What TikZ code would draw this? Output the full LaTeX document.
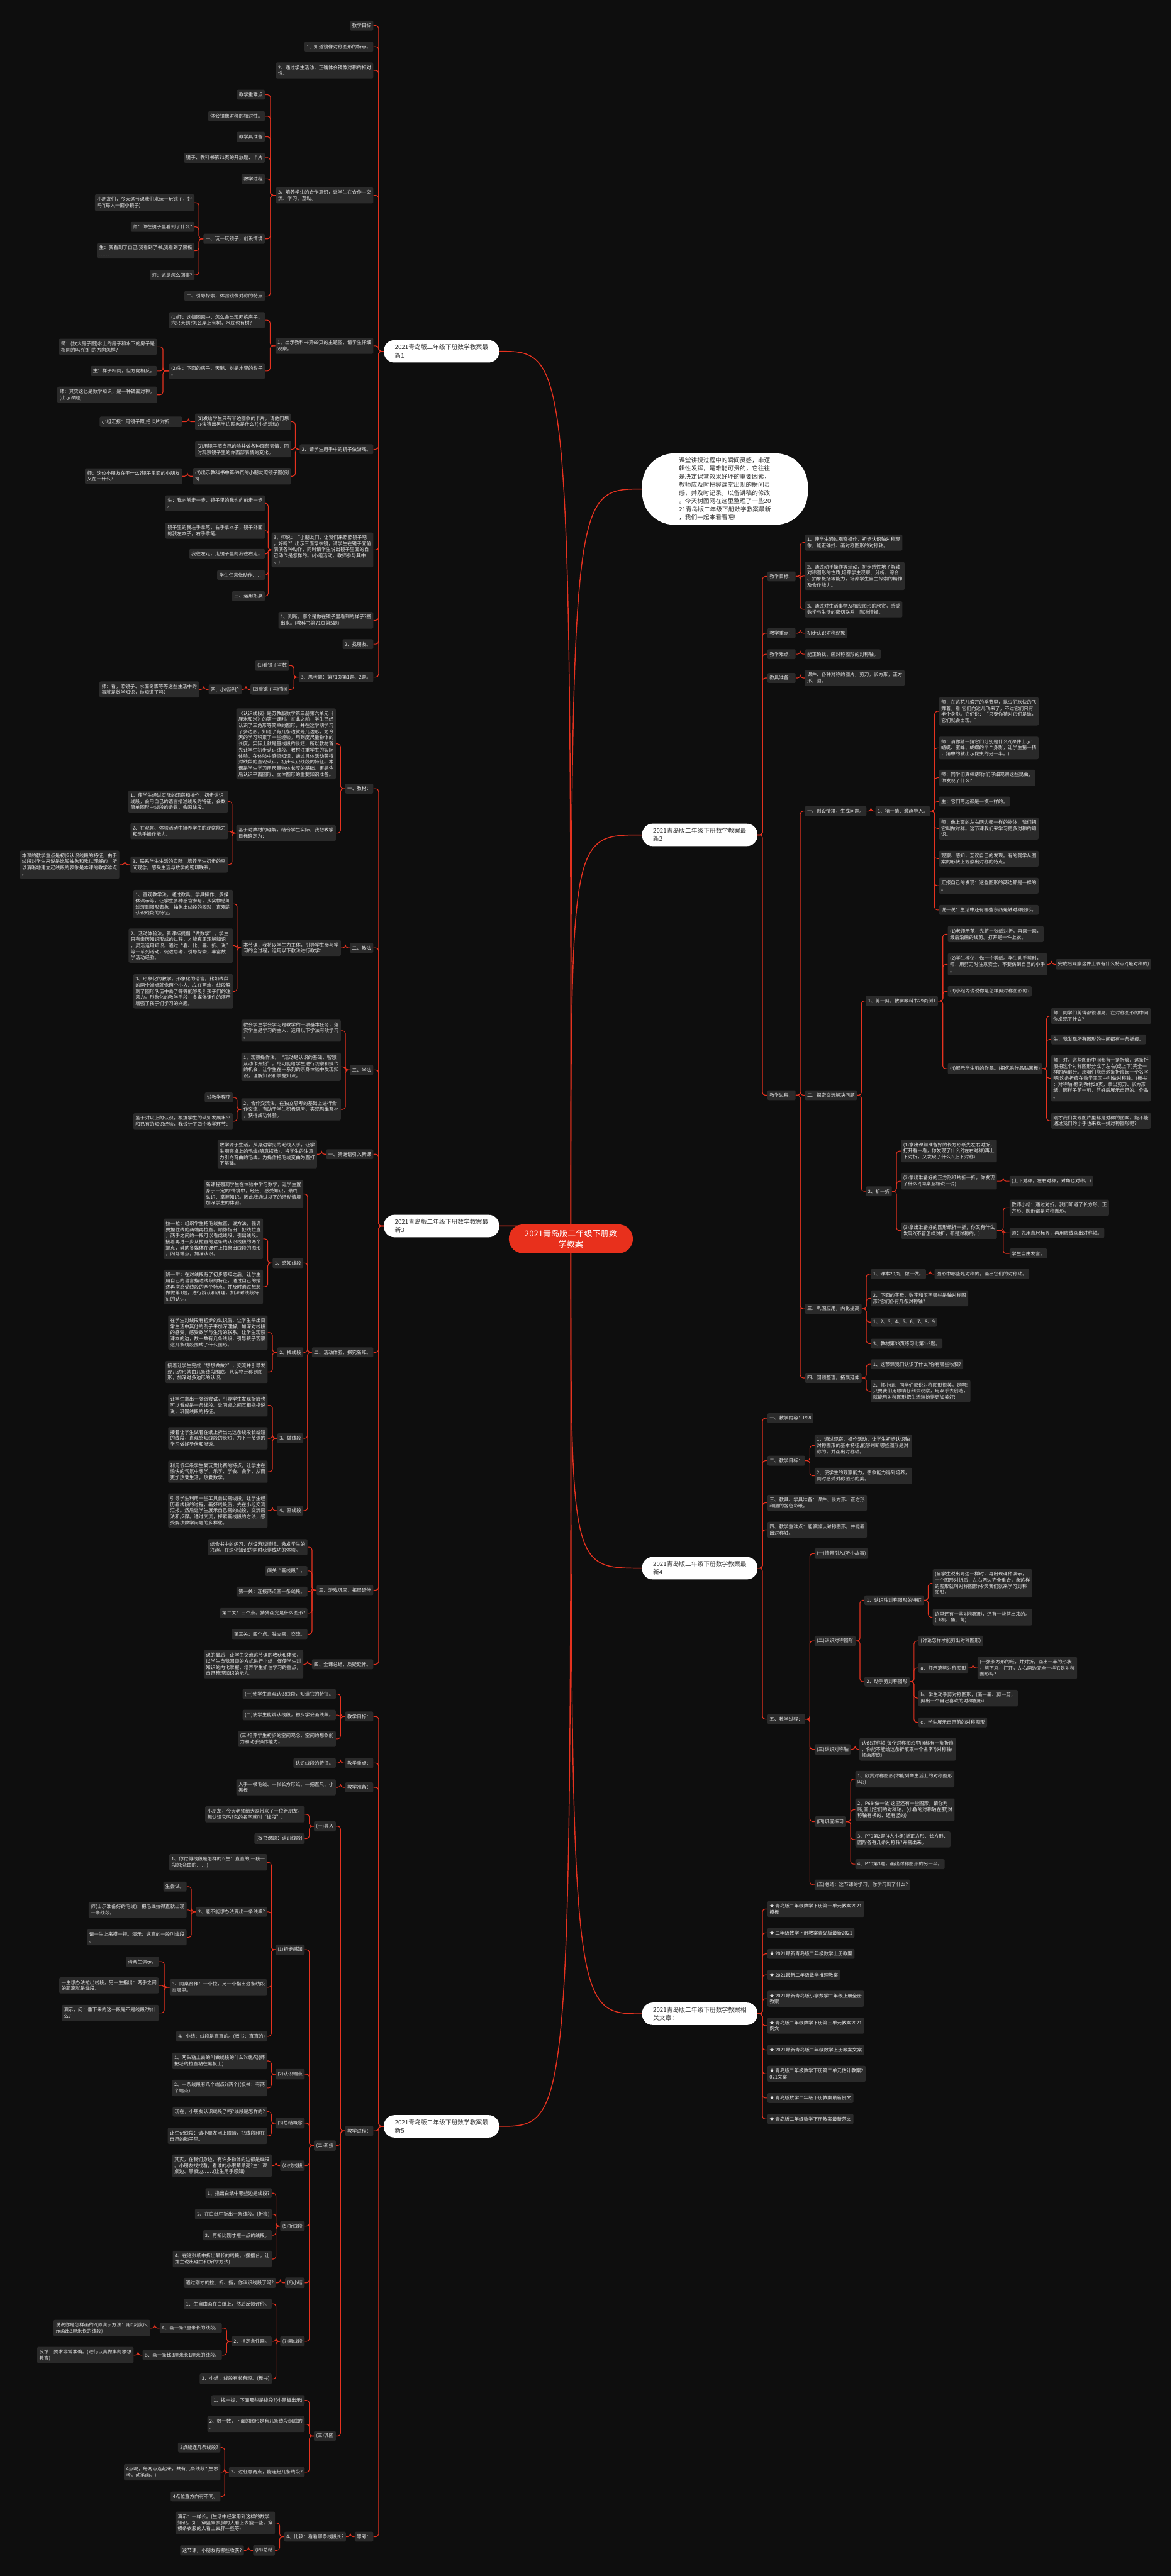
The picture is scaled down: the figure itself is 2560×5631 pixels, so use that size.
\documentclass[tikz,border=0pt]{standalone}
\usepackage{fontspec}
\newfontfamily\cjk{Noto Sans CJK SC}
\usetikzlibrary{calc}
\pgfdeclarelayer{bg}
\pgfdeclarelayer{edges}
\pgfsetlayers{bg,edges,main}
\definecolor{bgc}{HTML}{0E0E0E}
\definecolor{boxc}{HTML}{2A2A2A}
\definecolor{txtc}{HTML}{E6E6E6}
\definecolor{linec}{HTML}{E5321F}
\definecolor{rootc}{HTML}{E8301C}
\definecolor{lvtxt}{HTML}{333333}
\tikzset{
  bx/.style={fill=boxc,text=txtc,rounded corners=3pt,inner xsep=4.7pt,inner ysep=6pt,align=left,font=\cjk\fontsize{10.4pt}{13.3pt}\selectfont},
  le/.style={bx,anchor=east},
  ri/.style={bx,anchor=west},
  lvone/.style={fill=white,text=lvtxt,rounded corners=23pt,inner xsep=24pt,inner ysep=6pt,minimum height=49pt,align=left,font=\cjk\fontsize{13.4pt}{18.2pt}\selectfont},
  descn/.style={fill=white,text=lvtxt,rounded corners=70pt,inner sep=0pt,minimum width=362pt,minimum height=156pt,align=left,font=\cjk\fontsize{13.3pt}{17.9pt}\selectfont},
  rootn/.style={fill=rootc,text=white,rounded corners=31pt,minimum width=271pt,minimum height=63pt,align=center,font=\cjk\fontsize{18pt}{23pt}\selectfont},
  conn/.style={draw=linec,line width=1.5pt,rounded corners=6pt},
  mconn/.style={draw=linec,line width=2pt},
}
\newcommand\lkon[2]{\draw[conn] (#1.west) -- ($(#1.west)!0.5!(#1.west -| #2.east)$) |- (#2.east);}
\newcommand\rkon[2]{\draw[conn] (#1.east) -- ($(#1.east)!0.5!(#1.east -| #2.west)$) |- (#2.west);}
\begin{document}
\begin{tikzpicture}[x=1pt,y=-1pt]
\useasboundingbox (0,0) rectangle (2560,5631);
\begin{pgfonlayer}{bg}
\fill[bgc] (0,0) rectangle (2560,5631);
\end{pgfonlayer}

% root and first level
\node[rootn] (C) at (1247.5,2708) {2021青岛版二年级下册数\\学教案};
\node[lvone,anchor=east] (L1) at (1091,768) {2021青岛版二年级下册数学教案最\\新1};
\node[lvone,anchor=east] (L3) at (1091,2680) {2021青岛版二年级下册数学教案最\\新3};
\node[lvone,anchor=east] (L5) at (1091,4648) {2021青岛版二年级下册数学教案最\\新5};
\node[descn,anchor=west] (D) at (1403,1069) {课堂讲授过程中的瞬间灵感，非逻\\辑性发挥，是难能可贵的，它往往\\是决定课堂效果好坏的重要因素，\\教师应及时把握课堂出现的瞬间灵\\感，并及时记录，以备讲稿的修改\\。今天树图网在这里整理了一些20\\21青岛版二年级下册数学教案最新\\，我们一起来看看吧!};
\node[lvone,anchor=west] (R2) at (1403,1825) {2021青岛版二年级下册数学教案最\\新2};
\node[lvone,anchor=west] (R4) at (1403,3428) {2021青岛版二年级下册数学教案最\\新4};
\node[lvone,anchor=west] (R6) at (1403,4402) {2021青岛版二年级下册数学教案相\\关文章：};

% ---------------- L1 ----------------
\node[le] (L1a) at (816,56) {教学目标};
\node[le] (L1b) at (816,102) {1、知道镜像对称图形的特点。};
\node[le] (L1c) at (816,154) {2、通过学生活动，正确体会镜像对称的相对\\性。};
\node[le] (L1d) at (816,427) {3、培养学生的合作意识，让学生在合作中交\\流、学习、互动。};
\node[le] (L1d1) at (579,207) {教学重难点};
\node[le] (L1d2) at (579,254) {体会镜像对称的相对性。};
\node[le] (L1d3) at (579,299) {教学具准备};
\node[le] (L1d4) at (579,345) {镜子、教科书第71页的开放题、卡片};
\node[le] (L1d5) at (579,391) {教学过程};
\node[le] (L1d6) at (579,522) {一、玩一玩镜子，创设情境};
\node[le] (L1d6a) at (425,443) {小朋友们，今天这节课我们来玩一玩镜子，好\\吗?(每人一面小镜子)};
\node[le] (L1d6b) at (425,496) {师：你在镜子里看到了什么?};
\node[le] (L1d6c) at (425,548) {生：我看到了自己;我看到了书;我看到了黑板\\……};
\node[le] (L1d6d) at (425,601) {师：这是怎么回事?};
\node[le] (L1d7) at (579,647) {二、引导探索，体验镜像对称的特点};
\node[le] (L1e) at (816,756) {1、出示教科书第69页的主题图，请学生仔细\\观察。};
\node[le] (L1e1) at (579,700) {(1)师：这幅图画中，怎么会出现两栋房子、\\六只天鹅?怎么岸上有树，水底也有树?};
\node[le] (L1e2) at (579,811) {(2)生：下面的房子、天鹅、树是水里的影子\\。};
\node[le] (L1e2a) at (343,758) {师：(放大房子图)水上的房子和水下的房子是\\相同的吗?它们的方向怎样?};
\node[le] (L1e2b) at (343,811) {生：样子相同，但方向相反。};
\node[le] (L1e2c) at (343,863) {师：其实这也是数学知识，是一种镜面对称。\\(出示课题)};
\node[le] (L1f) at (816,982) {2、请学生用手中的镜子做游戏。};
\node[le] (L1f1) at (636,922) {(1)发给学生只有半边图象的卡片，请他们想\\办法猜出另半边图象是什么?(小组活动)};
\node[le] (L1f1a) at (398,922) {小组汇报：用镜子照;把卡片对折……};
\node[le] (L1f2) at (636,982) {(2)用镜子照自己的脸并做各种面部表情，同\\时观察镜子里的你面部表情的变化。};
\node[le] (L1f3) at (636,1041) {(3)出示教科书中第69页的小朋友照镜子图(例\\3)};
\node[le] (L1f3a) at (398,1041) {师：这位小朋友在干什么?镜子里面的小朋友\\又在干什么?};
\node[le] (L1g) at (816,1202) {3、师说：“小朋友们，让我们来照照镜子吧\\，好吗?”出示三面穿衣镜，请学生在镜子面前\\表演各种动作，同时请学生说出镜子里面的自\\己动作是怎样的。(小组活动，教师参与其中\\。)};
\node[le] (L1g1) at (579,1100) {生：我向前走一步，镜子里的我也向前走一步\\。};
\node[le] (L1g2) at (579,1160) {镜子里的我左手拿笔，右手拿本子，镜子外面\\的我左本子，右手拿笔。};
\node[le] (L1g3) at (579,1211) {我往左走，走镜子里的我往右走。};
\node[le] (L1g4) at (579,1257) {学生任意做动作……};
\node[le] (L1g5) at (579,1303) {三、运用拓展};
\node[le] (L1h) at (816,1356) {1、判断。哪个是你在镜子里看到的样子?圈\\出来。(教科书第71页第5题)};
\node[le] (L1i) at (816,1408) {2、找朋友。};
\node[le] (L1j) at (816,1480) {3、思考题：第71页第1题、2题。};
\node[le] (L1j1) at (632,1455) {(1)看镜子写数};
\node[le] (L1j2) at (632,1507) {(2)看镜子写时间};
\node[le] (L1j2a) at (528,1507) {四、小结评价};
\node[le] (L1j2b) at (435,1507) {师：看，照镜子、水面倒影等等这些生活中的\\事就是数学知识，你知道了吗?};

% ---------------- L3 ----------------
\node[le] (L3a) at (816,1724) {一、教材：};
\node[le] (L3a1) at (734,1626) {《认识线段》是苏教版数学第三册第六单元《\\厘米和米》的第一课时。在此之前，学生已经\\认识了三角形等简单的图形，并在这学期学习\\了多边形，知道了有几条边就是几边形，为今\\天的学习积累了一些经验。用刻度尺量物体的\\长度，实际上就是量线段的长短，所以教材首\\先让学生初步认识线段。教材注重学生的实际\\体验，在体验中感悟知识，通过具体活动获得\\对线段的直观认识，初步认识线段的特征。本\\课是学生学习用尺量物体长度的基础，更是今\\后认识平面图形、立体图形的重要知识准备。};
\node[le] (L3a2) at (734,1821) {基于对教材的理解，结合学生实际，我把教学\\目标确定为：};
\node[le] (L3a2a) at (498,1752) {1、使学生经过实际的观察和操作，初步认识\\线段，会用自己的语言描述线段的特征，会数\\简单图形中线段的条数，会画线段。};
\node[le] (L3a2b) at (498,1817) {2、在观察、体验活动中培养学生的观察能力\\和动手操作能力。};
\node[le] (L3a2c) at (498,1890) {3、联系学生生活的实际，培养学生初步的空\\间观念，感受生活与数学的密切联系。};
\node[le] (L3a2c1) at (261,1890) {本课的教学重点是初步认识线段的特征，由于\\线段对学生来说是比较抽象和难以理解的。所\\以清晰地建立起线段的表象是本课的教学难点\\。};
\node[le] (L3b) at (816,2072) {二、教法};
\node[le] (L3b1) at (745,2072) {本节课，我将以学生为主体，引导学生参与学\\习的全过程，运用以下教法进行教学：};
\node[le] (L3b1a) at (509,1976) {1、直观教学法。通过教具、学具操作、多媒\\体演示等，让学生多种感官参与，从实物感知\\过渡到图形表象，抽象出线段的图形，直观的\\认识线段的特征。};
\node[le] (L3b1b) at (509,2067) {2、活动体验法。新课标提倡“做数学”。学生\\只有亲历知识形成的过程，才能真正理解知识\\，灵活运用知识。通过“看、比、画、折、说”\\等一系列活动，促进思考，引导探索，丰富数\\学活动经验。};
\node[le] (L3b1c) at (509,2167) {3、形象化的教学。形象化的语言，比如线段\\的两个端点就像两个小人儿立在两端，线段躲\\到了图形队伍中去了等等能够吸引孩子们的注\\意力。形象化的教学手段，多媒体课件的演示\\增强了孩子们学习的兴趣。};
\node[le] (L3c) at (816,2339) {三、学法};
\node[le] (L3c1) at (745,2253) {教会学生学会学习是教学的一项基本任务，落\\实学生是学习的主人，运用以下学法有效学习\\。};
\node[le] (L3c2) at (745,2332) {1、观察操作法。“活动是认识的基础，智慧\\从动作开始”。尽可能给学生进行观察和操作\\的机会，让学生在一系列的亲身体验中发现知\\识，理解知识和掌握知识。};
\node[le] (L3c3) at (745,2425) {2、合作交流法。在独立思考的基础上进行合\\作交流，有助于学生积极思考、实现思维互补\\，获得成功体验。};
\node[le] (L3c3a) at (509,2399) {说教学程序};
\node[le] (L3c3b) at (509,2451) {鉴于对以上的认识，根据学生的认知发展水平\\和已有的知识经验，我设计了四个教学环节：};
\node[le] (L3d) at (816,2523) {一、猜谜语引入新课};
\node[le] (L3d1) at (693,2523) {数学源于生活，从身边常见的毛线入手，让学\\生观察桌上的毛线(随意摆放)，将学生的注意\\力引向弯曲的毛线。为操作把毛线变曲为直打\\下基础。};
\node[le] (L3e) at (816,2956) {二、活动体验，探究新知。};
\node[le] (L3e1) at (663,2610) {新课程强调学生在体验中学习数学，让学生置\\身于一定的'情境中，经历、感受知识，最终\\认识、掌握知识。因此我通过以下的活动情境\\加深学生的体验。};
\node[le] (L3e2) at (663,2761) {1、感知线段};
\node[le] (L3e2a) at (575,2708) {拉一拉：组织学生把毛线拉直，说方法，强调\\要捏住线的两端再拉直。顺势指出：把线拉直\\，两手之间的一段可以看成线段，引出线段。\\接着再进一步从拉直的这条线认识线段的两个\\端点，辅助多媒体在课件上抽象出线段的图形\\，闪烁端点，加深认识。};
\node[le] (L3e2b) at (575,2813) {辨一辨：在对线段有了初步感知之后，让学生\\用自己的语言描述线段的特征，通过自己的描\\述再次感受线段的两个特点，并及时通过想想\\做做第1题，进行辨认和说理，加深对线段特\\征的认识。};
\node[le] (L3e3) at (663,2956) {2、找线段};
\node[le] (L3e3a) at (585,2913) {在学生对线段有初步的认识后，让学生举出日\\常生活中其他的例子来加深理解，加深对线段\\的感受，感受数学与生活的联系。让学生观察\\课本的边，数一数有几条线段，引导孩子观察\\这几条线段围成了什么图形。};
\node[le] (L3e3b) at (585,2999) {接着让学生完成“想想做做2”，交流并引导发\\现几边形就由几条线段围成。从实物迁移到图\\形，加深对多边形的认识。};
\node[le] (L3e4) at (663,3144) {3、做线段};
\node[le] (L3e4a) at (585,3072) {让学生拿出一张纸尝试，引导学生发现折痕也\\可以看成是一条线段。让同桌之间互相指指说\\说，巩固线段的特征。};
\node[le] (L3e4b) at (585,3144) {接着让学生试着在纸上折出比这条线段长或短\\的线段，直观感知线段的长短，为下一节课的\\学习做好孕伏和渗透。};
\node[le] (L3e4c) at (585,3217) {利用低年级学生爱玩爱比赛的特点，让学生在\\愉快的气氛中想学、乐学、学会、会学，从而\\更加热爱生活，热爱数学。};
\node[le] (L3e5) at (663,3302) {4、画线段};
\node[le] (L3e5a) at (585,3302) {引导学生利用一些工具尝试画线段，让学生经\\历画线段的过程，画好线段后，先在小组交流\\汇报。然后让学生展示自己画的线段，交流画\\法和步骤。通过交流，探索画线段的方法，感\\受解决数学问题的多样化。};
\node[le] (L3f) at (816,3476) {三、游戏巩固，拓展延伸};
\node[le] (L3f1) at (672,3382) {结合书中的练习，创设游戏情境，激发学生的\\兴趣，在深化知识的同时获得成功的体验。};
\node[le] (L3f2) at (672,3434) {闯关“画线段”。};
\node[le] (L3f3) at (672,3479) {第一关：连接两点画一条线段。};
\node[le] (L3f4) at (672,3526) {第二关：三个点。猜猜画完是什么图形?};
\node[le] (L3f5) at (672,3572) {第三关：四个点。独立画，交流。};
\node[le] (L3g) at (816,3638) {四、全课总结，质疑延伸。};
\node[le] (L3g1) at (663,3638) {课的最后，让学生交流这节课的收获和体会，\\以学生自我回顾的方式进行小结，促使学生对\\知识的内化掌握，培养学生抓住学习的重点，\\自己整理知识的能力。};

% ---------------- L5 ----------------
\node[le] (L5a) at (816,3752) {教学目标：};
\node[le] (L5a1) at (734,3703) {(一)使学生直观认识线段，知道它的特征。};
\node[le] (L5a2) at (734,3749) {(二)使学生能辨认线段，初步学会画线段。};
\node[le] (L5a3) at (734,3801) {(三)培养学生初步的空间观念，空间的想象能\\力和动手操作能力。};
\node[le] (L5b) at (816,3854) {教学重点：};
\node[le] (L5b1) at (734,3854) {认识线段的特征。};
\node[le] (L5c) at (816,3907) {教学准备：};
\node[le] (L5c1) at (734,3907) {人手一根毛线、一张长方形纸、一把直尺、小\\黑板};
\node[le] (L5d) at (816,4658) {教学过程：};
\node[le] (L5d1) at (734,3992) {(一)导入};
\node[le] (L5d1a) at (666,3966) {小朋友，今天老师给大家带来了一位新朋友，\\想认识它吗?它的名字就叫“线段”。};
\node[le] (L5d1b) at (666,4019) {(板书课题：认识线段)};
\node[le] (L5d2) at (734,4690) {(二)新授};
\node[le] (L5d2a) at (666,4262) {(1)初步感知};
\node[le] (L5d2a1) at (584,4071) {1、你觉得线段是怎样的?(生：直直的;一段一\\段的;弯曲的……)};
\node[le] (L5d2a2) at (584,4179) {2、能不能想办法变出一条线段?};
\node[le] (L5d2a2a) at (408,4124) {生尝试。};
\node[le] (L5d2a2b) at (408,4175) {师(出示准备好的毛线)：把毛线拉得直就出现\\一条线段。};
\node[le] (L5d2a2c) at (408,4235) {请一生上来摸一摸。演示：这直的一段叫线段\\。};
\node[le] (L5d2a3) at (584,4344) {3、同桌合作：一个拉，另一个指出这条线段\\在哪里。};
\node[le] (L5d2a3a) at (347,4288) {请两生演示。};
\node[le] (L5d2a3b) at (347,4340) {一生想办法拉出线段，另一生指出：两手之间\\的距离就是线段。};
\node[le] (L5d2a3c) at (347,4400) {演示，问：垂下来的这一段是不是线段?为什\\么?};
\node[le] (L5d2a4) at (584,4451) {4、小结：线段是直直的。(板书：直直的)};
\node[le] (L5d2b) at (666,4534) {(2)认识端点};
\node[le] (L5d2b1) at (584,4505) {1、两头粘上去的叫做线段的什么?(端点)(师\\把毛线拉直粘在黑板上)};
\node[le] (L5d2b2) at (584,4564) {2、一条线段有几个端点?(两个)(板书：有两\\个端点)};
\node[le] (L5d2c) at (666,4641) {(3)总结概念};
\node[le] (L5d2c1) at (584,4616) {现在，小朋友认识线段了吗?线段是怎样的?};
\node[le] (L5d2c2) at (584,4669) {让生记线段：请小朋友闭上眼睛，把线段印在\\自己的脑子里。};
\node[le] (L5d2d) at (666,4734) {(4)找线段};
\node[le] (L5d2d1) at (594,4734) {其实，在我们身边，有许多物体的边都是线段\\。小朋友找找看，看谁的小眼睛最亮?生：课\\桌边、黑板边……(让生用手感知)};
\node[le] (L5d2e) at (666,4866) {(5)折线段};
\node[le] (L5d2e1) at (594,4794) {1、指出白纸中哪些边是线段?};
\node[le] (L5d2e2) at (594,4840) {2、在白纸中折出一条线段。(折痕)};
\node[le] (L5d2e3) at (594,4886) {3、再折比刚才短一点的线段。};
\node[le] (L5d2e4) at (594,4938) {4、在这张纸中折出最长的线段。(摆擂台，让\\擂主说出理由和折的'方法)};
\node[le] (L5d2f) at (666,4990) {(6)小结};
\node[le] (L5d2f1) at (603,4990) {通过刚才的拉、折、指，你认识线段了吗?};
\node[le] (L5d2g) at (666,5118) {(7)画线段};
\node[le] (L5d2g1) at (594,5036) {1、生自由画在白纸上，然后反馈评价。};
\node[le] (L5d2g2) at (594,5118) {2、指定条件画。};
\node[le] (L5d2g2a) at (485,5089) {A、画一条3厘米长的线段。};
\node[le] (L5d2g2a1) at (328,5089) {说说你是怎样画的?(师演示方法：用0刻度尺\\示画出3厘米长的线段)};
\node[le] (L5d2g2b) at (485,5148) {B、画一条比3厘米长1厘米的线段。};
\node[le] (L5d2g2b1) at (292,5148) {反馈：要求非常准确。(进行认真做事的思想\\教育)};
\node[le] (L5d2g3) at (594,5200) {3、小结：线段有长有短。(板书)};
\node[le] (L5d3) at (734,5325) {(三)巩固};
\node[le] (L5d3a) at (666,5247) {1、找一找，下面那些是线段?(小黑板出示)};
\node[le] (L5d3b) at (666,5299) {2、数一数，下面的图形是有几条线段组成的\\。};
\node[le] (L5d3c) at (666,5404) {3、过任意两点，能连起几条线段?};
\node[le] (L5d3c1) at (482,5350) {3点能连几条线段?};
\node[le] (L5d3c2) at (482,5404) {4点呢，每两点连起来，共有几条线段?(生思\\考，动笔画。)};
\node[le] (L5d3c3) at (482,5457) {4点位置方向有不同。};
\node[le] (L5e) at (816,5545) {思考：};
\node[le] (L5e1) at (756,5545) {4、比较：看看哪条线段长?};
\node[le] (L5e1a) at (601,5515) {演示：一样长。(生活中经常用到这样的数学\\知识。如：穿竖条衣服的人看上去瘦一些，穿\\横条衣服的人看上去胖一些等)};
\node[le] (L5e1b) at (601,5575) {(四)总结};
\node[le] (L5e1b1) at (533,5575) {这节课，小朋友有哪些收获?};

% ---------------- R2 ----------------
\node[ri] (R2a) at (1677,1260) {教学目标：};
\node[ri] (R2a1) at (1759,1186) {1、使学生通过观察操作，初步认识轴对称现\\象，能正确找、画对称图形的对称轴。};
\node[ri] (R2a2) at (1759,1259) {2、通过动手操作等活动，初步感性地了解轴\\对称图形的性质;培养学生观察、分析、综合\\、抽象概括等能力，培养学生自主探索的精神\\及合作能力。};
\node[ri] (R2a3) at (1759,1332) {3、通过对生活事物及相应图形的欣赏，感受\\数学与生活的密切联系，陶冶情操。};
\node[ri] (R2b) at (1677,1384) {教学重点：};
\node[ri] (R2b1) at (1759,1384) {初步认识对称现象};
\node[ri] (R2c) at (1677,1430) {教学难点：};
\node[ri] (R2c1) at (1759,1430) {能正确找、画对称图形的对称轴。};
\node[ri] (R2d) at (1677,1482) {教具准备：};
\node[ri] (R2d1) at (1759,1482) {课件、各种对称的图片，剪刀，长方形，正方\\形，圆。};
\node[ri] (R2e) at (1677,2394) {教学过程：};
\node[ri] (R2e1) at (1759,1773) {一、创设情境，生成问题。};
\node[ri] (R2e1a) at (1913,1773) {1、猜一猜、激趣导入。};
\node[ri] (R2e1a1) at (2052,1555) {师：在这花儿盛开的季节里，昆虫们欢快的飞\\舞着，看!它们向这儿飞来了，不过它们只有\\半个身影。它们说：“只要你猜对它们是谁，\\它们就会出现。”};
\node[ri] (R2e1a2) at (2052,1635) {师：请你猜一猜它们分别是什么?(课件出示：\\蜻蜓、蜜蜂、蝴蝶的半个身影，让学生猜一猜\\，猜中的就出示昆虫的另一半。)};
\node[ri] (R2e1a3) at (2052,1700) {师：同学们真棒!那你们仔细观察这些昆虫，\\你发现了什么?};
\node[ri] (R2e1a4) at (2052,1752) {生：它们两边都是一模一样的。};
\node[ri] (R2e1a5) at (2052,1811) {师：像上面的左右两边都一样的物体，我们把\\它叫做对称。这节课我们来学习更多对称的知\\识。};
\node[ri] (R2e1a6) at (2052,1877) {观察、感知，互议自己的发现。有的同学从图\\案的形状上观察出对称的特点。};
\node[ri] (R2e1a7) at (2052,1936) {汇报自己的发现：这些图形的两边都是一样的\\。};
\node[ri] (R2e1a8) at (2052,1989) {说一说：生活中还有哪些东西是轴对称图形。};
\node[ri] (R2e2) at (1759,2394) {二、探索交流解决问题};
\node[ri] (R2e2a) at (1892,2188) {1、剪一剪，教学教科书29页例1};
\node[ri] (R2e2a1) at (2071,2042) {(1)老师示范，先将一张纸对折，再画一画，\\最后沿画的线剪。打开是一件上衣。};
\node[ri] (R2e2a2) at (2071,2108) {(2)学生模仿，做一个剪纸。学生动手剪时，\\师：用剪刀时注意安全，不要伤到自己的小手\\。};
\node[ri] (R2e2a2x) at (2307,2108) {完成后观察这件上衣有什么特点?(是对称的)};
\node[ri] (R2e2a3) at (2071,2167) {(3)小组内说说你是怎样剪对称图形的?};
\node[ri] (R2e2a4) at (2071,2336) {(4)展示学生剪的作品。(把优秀作品贴黑板)};
\node[ri] (R2e2a4a) at (2297,2221) {师：同学们剪得都很漂亮，在对称图形的中间\\你发现了什么?};
\node[ri] (R2e2a4b) at (2297,2272) {生：我发现所有图形的中间都有一条折痕。};
\node[ri] (R2e2a4c) at (2297,2357) {师：对，这些图形中间都有一条折痕，这条折\\痕把这个对称图形分成了左右(或上下)完全一\\样的两部分。那咱们能给这条折痕起一个名字\\吧!这条折痕在数学王国中叫做对称轴。(板书\\：对称轴)翻到教材29页，拿出剪刀、长方形\\纸，照样子剪一剪，剪好后展示自己的。作品\\。};
\node[ri] (R2e2a4d) at (2297,2450) {刚才我们发现图片里都是对称的图案，能不能\\通过我们的小手也来找一找对称图形呢?};
\node[ri] (R2e2b) at (1892,2604) {2、折一折};
\node[ri] (R2e2b1) at (1969,2516) {(1)拿出课前准备好的长方形纸先左右对折，\\打开看一看，你发现了什么?(左右对称)再上\\下对折，又发现了什么?(上下对称)};
\node[ri] (R2e2b2) at (1969,2582) {(2)拿出准备好的正方形纸片折一折，你发现\\了什么?(同桌互相说一说)};
\node[ri] (R2e2b2x) at (2206,2582) {(上下对称，左右对称，对角也对称。)};
\node[ri] (R2e2b3) at (1969,2690) {(3)拿出准备好的圆形纸折一折，你又有什么\\发现?(不管怎样对折，都是对称的。)};
\node[ri] (R2e2b3a) at (2206,2640) {教师小结：通过对折，我们知道了长方形、正\\方形、圆形都是对称图形。};
\node[ri] (R2e2b3b) at (2206,2695) {师：先用直尺标齐，再用虚线画出对称轴。};
\node[ri] (R2e2b3c) at (2206,2740) {学生自由发言。};
\node[ri] (R2e3) at (1759,2861) {三、巩固应用，内化提高};
\node[ri] (R2e3a) at (1903,2785) {1、课本29页，做一做。};
\node[ri] (R2e3ax) at (2042,2785) {图形中哪些是对称的，画出它们的对称轴。};
\node[ri] (R2e3b) at (1903,2838) {2、下面的字母、数字和汉字哪些是轴对称图\\形?它们各有几条对称轴?};
\node[ri] (R2e3c) at (1903,2890) {1、2、3、4、5、6、7、8、9};
\node[ri] (R2e3d) at (1903,2937) {3、教材第33页练习七第1-3题。};
\node[ri] (R2e4) at (1759,3012) {四、回顾整理，拓展延伸};
\node[ri] (R2e4a) at (1903,2982) {1、这节课我们认识了什么?你有哪些收获?};
\node[ri] (R2e4b) at (1903,3041) {2、师小结：同学们都说对称图形很美，是啊!\\只要我们用眼睛仔细去观察，用双手去创造，\\就能用对称图形把生活装扮得更加美好!};

% ---------------- R4 ----------------
\node[ri] (R4a) at (1677,3100) {一、教学内容：P68};
\node[ri] (R4b) at (1677,3193) {二、教学目标：};
\node[ri] (R4b1) at (1780,3160) {1、通过观察、操作活动，让学生初步认识轴\\对称图形的基本特征;能够判断哪些图形是对\\称的，并画出对称轴。};
\node[ri] (R4b2) at (1780,3226) {2、使学生的观察能力，想象能力得到培养，\\同时感受对称图形的美。};
\node[ri] (R4c) at (1677,3285) {三、教具、学具准备：课件、长方形、正方形\\和圆的各色彩纸。};
\node[ri] (R4d) at (1677,3344) {四、教学重难点：能够辨认对称图形，并能画\\出对称轴。};
\node[ri] (R4e) at (1677,3758) {五、教学过程：};
\node[ri] (R4e1) at (1780,3396) {(一)情景引入(听小故事)};
\node[ri] (R4e2) at (1780,3587) {(二)认识对称图形};
\node[ri] (R4e2a) at (1889,3498) {1、认识轴对称图形的特征};
\node[ri] (R4e2a1) at (2038,3461) {(当学生说出两边一样时，再出现课件演示，\\一个图形对折后，左右两边完全重合，象这样\\的图形就叫对称图形)今天我们就来学习对称\\图形，};
\node[ri] (R4e2a2) at (2038,3535) {这里还有一些对称图形，还有一些剪出来的。\\(飞机、鱼、龟)};
\node[ri] (R4e2b) at (1889,3676) {2、动手剪对称图形};
\node[ri] (R4e2b1) at (2007,3587) {(讨论怎样才能剪出对称图形)};
\node[ri] (R4e2b2) at (2007,3646) {a、师示范剪对称图形};
\node[ri] (R4e2b2x) at (2136,3646) {(一张长方形的纸，并对折，画出一半的形状\\，剪下来，打开，左右两边完全一样它是对称\\图形吗?};
\node[ri] (R4e2b3) at (2007,3712) {b、学生动手剪对称图形，(画一画、剪一剪，\\剪出一个自己喜欢的对称图形)};
\node[ri] (R4e2b4) at (2007,3765) {c、学生展示自己剪的对称图形};
\node[ri] (R4e3) at (1780,3824) {(三)认识对称轴};
\node[ri] (R4e3a) at (1878,3824) {认识对称轴(每个对称图形中间都有一条折痕\\，你能不能给这条折痕取一个名字?)对称轴(\\师画虚线)};
\node[ri] (R4e4) at (1780,3982) {(四)巩固练习};
\node[ri] (R4e4a) at (1869,3889) {1、欣赏对称图形(你能列举生活上的对称图形\\吗?)};
\node[ri] (R4e4b) at (1869,3956) {2、P68(做一做)这里还有一些图形，请你判\\断;画出它们的对称轴。(小鱼的对称轴在那)对\\称轴有横的、还有竖的)};
\node[ri] (R4e4c) at (1869,4021) {3、P70第2题(4人小组)折正方形、长方形、\\圆形各有几条对称轴?并画出来。};
\node[ri] (R4e4d) at (1869,4075) {4、P70第3题，画出对称图形的另一半。};
\node[ri] (R4e5) at (1780,4120) {(五)总结：这节课的学习，你学习到了什么?};

% ---------------- R6 ----------------
\node[ri] (R6a) at (1677,4173) {★\,青岛版二年级数学下册第一单元教案2021\\模板};
\node[ri] (R6b) at (1677,4225) {★\,二年级数学下册教案青岛版最新2021};
\node[ri] (R6c) at (1677,4271) {★\,2021最新青岛版二年级数学上册教案};
\node[ri] (R6d) at (1677,4317) {★\,2021最新二年级数学推理教案};
\node[ri] (R6e) at (1677,4369) {★\,2021最新青岛版小学数学二年级上册全册\\教案};
\node[ri] (R6f) at (1677,4428) {★\,青岛版二年级数学下册第三单元教案2021\\例文};
\node[ri] (R6g) at (1677,4481) {★\,2021最新青岛版二年级数学上册教案文案};
\node[ri] (R6h) at (1677,4533) {★\,青岛版二年级数学下册第二单元估计教案2\\021文案};
\node[ri] (R6i) at (1677,4586) {★\,青岛版数学二年级下册教案最新例文};
\node[ri] (R6j) at (1677,4632) {★\,青岛版二年级数学下册教案最新范文};

% ---------------- connectors ----------------
\begin{pgfonlayer}{edges}
\foreach \nd in {L1,L3,L5} {\draw[mconn] (C.center) .. controls (C.center |- \nd.east) .. (\nd.east);}
\foreach \nd in {D,R2,R4,R6} {\draw[mconn] (C.center) .. controls (C.center |- \nd.west) .. (\nd.west);}
% L1
\foreach \ch in {L1a,L1b,L1c,L1d,L1e,L1f,L1g,L1h,L1i,L1j} {\lkon{L1}{\ch}}
\foreach \ch in {L1d1,L1d2,L1d3,L1d4,L1d5,L1d6,L1d7} {\lkon{L1d}{\ch}}
\foreach \ch in {L1d6a,L1d6b,L1d6c,L1d6d} {\lkon{L1d6}{\ch}}
\foreach \ch in {L1e1,L1e2} {\lkon{L1e}{\ch}}
\foreach \ch in {L1e2a,L1e2b,L1e2c} {\lkon{L1e2}{\ch}}
\foreach \ch in {L1f1,L1f2,L1f3} {\lkon{L1f}{\ch}}
\lkon{L1f1}{L1f1a}
\lkon{L1f3}{L1f3a}
\foreach \ch in {L1g1,L1g2,L1g3,L1g4,L1g5} {\lkon{L1g}{\ch}}
\foreach \ch in {L1j1,L1j2} {\lkon{L1j}{\ch}}
\lkon{L1j2}{L1j2a}
\lkon{L1j2a}{L1j2b}
% L3
\foreach \ch in {L3a,L3b,L3c,L3d,L3e,L3f,L3g} {\lkon{L3}{\ch}}
\foreach \ch in {L3a1,L3a2} {\lkon{L3a}{\ch}}
\foreach \ch in {L3a2a,L3a2b,L3a2c} {\lkon{L3a2}{\ch}}
\lkon{L3a2c}{L3a2c1}
\lkon{L3b}{L3b1}
\foreach \ch in {L3b1a,L3b1b,L3b1c} {\lkon{L3b1}{\ch}}
\foreach \ch in {L3c1,L3c2,L3c3} {\lkon{L3c}{\ch}}
\foreach \ch in {L3c3a,L3c3b} {\lkon{L3c3}{\ch}}
\lkon{L3d}{L3d1}
\foreach \ch in {L3e1,L3e2,L3e3,L3e4,L3e5} {\lkon{L3e}{\ch}}
\foreach \ch in {L3e2a,L3e2b} {\lkon{L3e2}{\ch}}
\foreach \ch in {L3e3a,L3e3b} {\lkon{L3e3}{\ch}}
\foreach \ch in {L3e4a,L3e4b,L3e4c} {\lkon{L3e4}{\ch}}
\lkon{L3e5}{L3e5a}
\foreach \ch in {L3f1,L3f2,L3f3,L3f4,L3f5} {\lkon{L3f}{\ch}}
\lkon{L3g}{L3g1}
% L5
\foreach \ch in {L5a,L5b,L5c,L5d,L5e} {\lkon{L5}{\ch}}
\foreach \ch in {L5a1,L5a2,L5a3} {\lkon{L5a}{\ch}}
\lkon{L5b}{L5b1}
\lkon{L5c}{L5c1}
\foreach \ch in {L5d1,L5d2,L5d3} {\lkon{L5d}{\ch}}
\foreach \ch in {L5d1a,L5d1b} {\lkon{L5d1}{\ch}}
\foreach \ch in {L5d2a,L5d2b,L5d2c,L5d2d,L5d2e,L5d2f,L5d2g} {\lkon{L5d2}{\ch}}
\foreach \ch in {L5d2a1,L5d2a2,L5d2a3,L5d2a4} {\lkon{L5d2a}{\ch}}
\foreach \ch in {L5d2a2a,L5d2a2b,L5d2a2c} {\lkon{L5d2a2}{\ch}}
\foreach \ch in {L5d2a3a,L5d2a3b,L5d2a3c} {\lkon{L5d2a3}{\ch}}
\foreach \ch in {L5d2b1,L5d2b2} {\lkon{L5d2b}{\ch}}
\foreach \ch in {L5d2c1,L5d2c2} {\lkon{L5d2c}{\ch}}
\lkon{L5d2d}{L5d2d1}
\foreach \ch in {L5d2e1,L5d2e2,L5d2e3,L5d2e4} {\lkon{L5d2e}{\ch}}
\lkon{L5d2f}{L5d2f1}
\foreach \ch in {L5d2g1,L5d2g2,L5d2g3} {\lkon{L5d2g}{\ch}}
\foreach \ch in {L5d2g2a,L5d2g2b} {\lkon{L5d2g2}{\ch}}
\lkon{L5d2g2a}{L5d2g2a1}
\lkon{L5d2g2b}{L5d2g2b1}
\foreach \ch in {L5d3a,L5d3b,L5d3c} {\lkon{L5d3}{\ch}}
\foreach \ch in {L5d3c1,L5d3c2,L5d3c3} {\lkon{L5d3c}{\ch}}
\lkon{L5e}{L5e1}
\foreach \ch in {L5e1a,L5e1b} {\lkon{L5e1}{\ch}}
\lkon{L5e1b}{L5e1b1}
% R2
\foreach \ch in {R2a,R2b,R2c,R2d,R2e} {\rkon{R2}{\ch}}
\foreach \ch in {R2a1,R2a2,R2a3} {\rkon{R2a}{\ch}}
\rkon{R2b}{R2b1}
\rkon{R2c}{R2c1}
\rkon{R2d}{R2d1}
\foreach \ch in {R2e1,R2e2,R2e3,R2e4} {\rkon{R2e}{\ch}}
\rkon{R2e1}{R2e1a}
\foreach \ch in {R2e1a1,R2e1a2,R2e1a3,R2e1a4,R2e1a5,R2e1a6,R2e1a7,R2e1a8} {\rkon{R2e1a}{\ch}}
\foreach \ch in {R2e2a,R2e2b} {\rkon{R2e2}{\ch}}
\foreach \ch in {R2e2a1,R2e2a2,R2e2a3,R2e2a4} {\rkon{R2e2a}{\ch}}
\rkon{R2e2a2}{R2e2a2x}
\foreach \ch in {R2e2a4a,R2e2a4b,R2e2a4c,R2e2a4d} {\rkon{R2e2a4}{\ch}}
\foreach \ch in {R2e2b1,R2e2b2,R2e2b3} {\rkon{R2e2b}{\ch}}
\rkon{R2e2b2}{R2e2b2x}
\foreach \ch in {R2e2b3a,R2e2b3b,R2e2b3c} {\rkon{R2e2b3}{\ch}}
\foreach \ch in {R2e3a,R2e3b,R2e3c,R2e3d} {\rkon{R2e3}{\ch}}
\rkon{R2e3a}{R2e3ax}
\foreach \ch in {R2e4a,R2e4b} {\rkon{R2e4}{\ch}}
% R4
\foreach \ch in {R4a,R4b,R4c,R4d,R4e} {\rkon{R4}{\ch}}
\foreach \ch in {R4b1,R4b2} {\rkon{R4b}{\ch}}
\foreach \ch in {R4e1,R4e2,R4e3,R4e4,R4e5} {\rkon{R4e}{\ch}}
\foreach \ch in {R4e2a,R4e2b} {\rkon{R4e2}{\ch}}
\foreach \ch in {R4e2a1,R4e2a2} {\rkon{R4e2a}{\ch}}
\foreach \ch in {R4e2b1,R4e2b2,R4e2b3,R4e2b4} {\rkon{R4e2b}{\ch}}
\rkon{R4e2b2}{R4e2b2x}
\rkon{R4e3}{R4e3a}
\foreach \ch in {R4e4a,R4e4b,R4e4c,R4e4d} {\rkon{R4e4}{\ch}}
% R6
\foreach \ch in {R6a,R6b,R6c,R6d,R6e,R6f,R6g,R6h,R6i,R6j} {\rkon{R6}{\ch}}
\end{pgfonlayer}
\end{tikzpicture}
\end{document}
